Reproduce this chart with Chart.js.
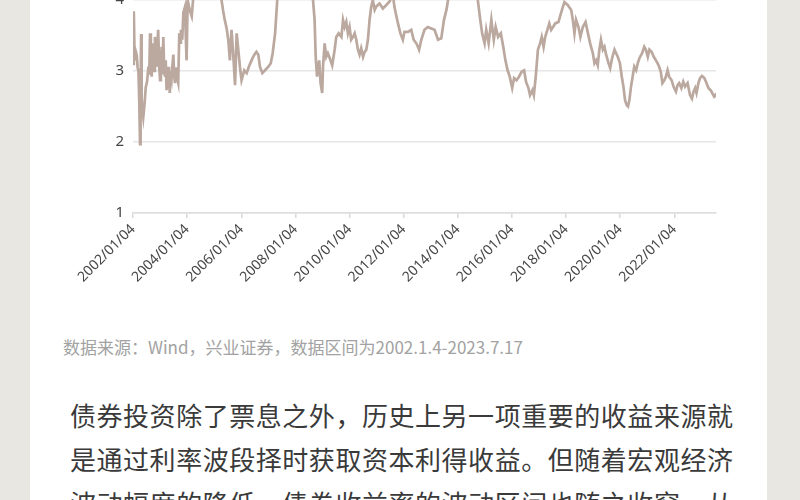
<!DOCTYPE html>
<html lang="zh-CN">
<head>
<meta charset="UTF-8">
<title>十年期国债收益率</title>
<script src="https://cdn.jsdelivr.net/npm/chart.js@4"></script>
<style>
  html, body { margin: 0; padding: 0; width: 800px; height: 500px; overflow: hidden; background: #e9e7e1; }
  .page { position: absolute; left: 30px; top: 0; width: 737px; height: 500px; background: #fff; }
  .chart-box { position: absolute; left: 0; top: -160px; width: 760px; height: 460px; }
  .source { position: absolute; left: 63px; top: 337px; font-family: "Noto Sans CJK SC", sans-serif; font-size: 17px; line-height: 20px; color: #a2a2a2; white-space: nowrap; }
  .text { position: absolute; left: 70px; top: 393px; width: 663px; font-family: "Noto Sans CJK SC", sans-serif; font-size: 26px; line-height: 44px; color: #3a3a3a; }
  .text div { text-align: justify; text-align-last: justify; white-space: nowrap; }
</style>
</head>
<body>
<div class="page"></div>
<div class="chart-box"><canvas id="yieldChart"></canvas></div>
<div class="source">数据来源：Wind，兴业证券，数据区间为2002.1.4-2023.7.17</div>
<div class="text">
  <div>债券投资除了票息之外，历史上另一项重要的收益来源就</div>
  <div>是通过利率波段择时获取资本利得收益。但随着宏观经济</div>
  <div>波动幅度的降低，债券收益率的波动区间也随之收窄，从</div>
</div>
<script>
// x tick labels
var tickYears = [2002, 2004, 2006, 2008, 2010, 2012, 2014, 2016, 2018, 2020, 2022];
var tickLabels = ['2002/01/04', '2004/01/04', '2006/01/04', '2008/01/04', '2010/01/04', '2012/01/04',
                  '2014/01/04', '2016/01/04', '2018/01/04', '2020/01/04', '2022/01/04'];

// time (decimal years) and yield (%)
var years = [
  2002.00, 2002.03, 2002.06, 2002.10, 2002.14, 2002.17, 2002.20, 2002.23, 2002.26, 2002.28, 2002.30, 2002.32,
  2002.35, 2002.38, 2002.43, 2002.47, 2002.52, 2002.57, 2002.60, 2002.63, 2002.66, 2002.69, 2002.72, 2002.75,
  2002.78, 2002.81, 2002.84, 2002.87, 2002.90, 2002.93, 2002.97, 2003.00, 2003.03, 2003.06, 2003.09, 2003.12,
  2003.15, 2003.18, 2003.21, 2003.24, 2003.27, 2003.30, 2003.33, 2003.36, 2003.40, 2003.43, 2003.46, 2003.49,
  2003.52, 2003.55, 2003.58, 2003.61, 2003.64, 2003.67, 2003.71, 2003.74, 2003.77, 2003.82, 2003.86, 2003.92,
  2003.95, 2003.98, 2004.02, 2004.10, 2004.17, 2004.23, 2004.29,
  2004.45, 2004.60, 2004.80, 2004.95, 2005.10, 2005.20,
  2005.27, 2005.33, 2005.39, 2005.46, 2005.52, 2005.58, 2005.64, 2005.70, 2005.77, 2005.83, 2005.89, 2005.95,
  2006.01, 2006.11, 2006.20, 2006.28, 2006.38, 2006.44, 2006.50, 2006.56, 2006.63, 2006.69, 2006.78, 2006.88,
  2007.00, 2007.09, 2007.16, 2007.25, 2007.33,
  2007.45, 2007.60, 2007.80, 2008.00, 2008.20, 2008.40, 2008.55,
  2008.65, 2008.71, 2008.75, 2008.80, 2008.88, 2008.93, 2008.99, 2009.02, 2009.08, 2009.14, 2009.20, 2009.27,
  2009.36, 2009.45, 2009.51, 2009.60, 2009.70, 2009.76, 2009.82, 2009.88, 2009.94, 2010.00, 2010.06, 2010.13,
  2010.19, 2010.25, 2010.31, 2010.37, 2010.43, 2010.50, 2010.56, 2010.62, 2010.68, 2010.74, 2010.80, 2010.86,
  2010.93, 2010.99, 2011.11, 2011.23, 2011.36, 2011.48, 2011.60, 2011.66, 2011.79, 2011.88, 2011.97, 2012.03,
  2012.16, 2012.28, 2012.37, 2012.47, 2012.57, 2012.65, 2012.77, 2012.89, 2013.02, 2013.14, 2013.27, 2013.39,
  2013.49, 2013.58, 2013.64,
  2013.80, 2013.95, 2014.10, 2014.30, 2014.50, 2014.65,
  2014.74, 2014.83, 2014.90, 2014.99, 2015.05, 2015.14, 2015.24, 2015.33, 2015.40, 2015.49, 2015.59, 2015.68,
  2015.76, 2015.84, 2015.92, 2016.01, 2016.08, 2016.17, 2016.26, 2016.36, 2016.45, 2016.52, 2016.61, 2016.67,
  2016.76, 2016.81, 2016.88, 2016.96, 2017.04, 2017.10, 2017.17, 2017.23, 2017.31, 2017.38, 2017.45, 2017.52,
  2017.60, 2017.72, 2017.81, 2017.88, 2017.94,
  2018.06, 2018.19, 2018.25, 2018.31, 2018.37, 2018.46, 2018.53, 2018.62, 2018.72, 2018.81, 2018.89, 2018.99,
  2019.05, 2019.11, 2019.17, 2019.23, 2019.29, 2019.36, 2019.42, 2019.48, 2019.57, 2019.63, 2019.70, 2019.79,
  2019.85, 2019.91, 2019.99, 2020.06, 2020.12, 2020.18, 2020.24, 2020.29, 2020.34, 2020.40, 2020.46, 2020.52,
  2020.59, 2020.65, 2020.71, 2020.81, 2020.89, 2020.95, 2021.02, 2021.08, 2021.16, 2021.24, 2021.32, 2021.38,
  2021.44, 2021.50, 2021.56, 2021.63, 2021.69, 2021.75, 2021.81, 2021.90, 2021.97, 2022.06, 2022.12, 2022.18,
  2022.26, 2022.33, 2022.40, 2022.49, 2022.58, 2022.65, 2022.71, 2022.77, 2022.82, 2022.89, 2022.95, 2023.02,
  2023.11, 2023.17, 2023.26, 2023.34, 2023.40, 2023.47, 2023.51, 2023.54
];
var yields = [
  3.10, 3.84, 3.15, 3.28, 3.22, 3.05, 3.00, 2.60, 1.97, 2.70, 3.52, 2.60,
  2.45, 2.35, 2.55, 2.77, 2.85, 3.06, 2.95, 3.53, 3.10, 2.92, 3.25, 3.39,
  3.00, 3.48, 3.20, 3.06, 3.35, 3.58, 3.05, 2.87, 3.10, 3.34, 2.95, 3.48,
  3.05, 2.92, 3.15, 2.73, 2.95, 3.06, 2.85, 2.69, 3.00, 2.92, 3.10, 3.23,
  2.95, 2.83, 3.05, 2.97, 2.88, 2.83, 3.53, 3.40, 3.58, 3.44, 3.82, 3.90,
  3.50, 3.15, 4.00, 3.85, 3.77, 4.05, 4.30,
  4.75, 5.05, 5.25, 5.00, 4.60, 4.25,
  4.00, 3.85, 3.72, 3.60, 3.44, 3.15, 3.58, 3.25, 2.80, 3.53, 3.30, 3.06,
  2.87, 3.01, 2.97, 3.06, 3.15, 3.20, 3.24, 3.27, 3.23, 3.06, 2.97, 3.01,
  3.06, 3.11, 3.25, 3.53, 4.00,
  4.35, 4.50, 4.60, 4.45, 4.35, 4.55, 4.30,
  4.00, 3.72, 3.20, 2.92, 3.15, 2.83, 2.69, 3.06, 3.39, 3.20, 3.25, 3.18,
  3.08, 3.30, 3.48, 3.53, 3.48, 3.72, 3.62, 3.69, 3.53, 3.62, 3.44, 3.48,
  3.53, 3.44, 3.30, 3.23, 3.32, 3.20, 3.27, 3.30, 3.44, 3.72, 3.90, 4.00,
  3.86, 3.91, 3.95, 3.88, 3.93, 3.98, 4.08, 3.90, 3.67, 3.53, 3.44, 3.55,
  3.55, 3.58, 3.44, 3.39, 3.30, 3.44, 3.58, 3.62, 3.60, 3.58, 3.44, 3.46,
  3.72, 3.86, 4.00,
  4.30, 4.60, 4.55, 4.40, 4.20, 4.05,
  4.00, 3.72, 3.53, 3.39, 3.58, 3.39, 3.72, 3.44, 3.62, 3.48, 3.53, 3.34,
  3.15, 3.01, 2.92, 2.76, 2.90, 2.87, 2.92, 2.99, 3.01, 2.85, 2.76, 2.66,
  2.73, 2.66, 2.92, 3.30, 3.39, 3.48, 3.34, 3.48, 3.58, 3.67, 3.58, 3.62,
  3.67, 3.69, 3.81, 3.90, 3.97,
  3.93, 3.86, 3.72, 3.53, 3.72, 3.62, 3.48, 3.62, 3.69, 3.53, 3.39, 3.25,
  3.11, 3.15, 3.08, 3.30, 3.44, 3.30, 3.34, 3.23, 3.11, 3.04, 3.18, 3.30,
  3.25, 3.20, 3.11, 2.92, 2.78, 2.59, 2.52, 2.50, 2.59, 2.78, 2.92, 3.06,
  3.01, 3.11, 3.18, 3.25, 3.34, 3.30, 3.20, 3.30, 3.27, 3.20, 3.15, 3.11,
  3.06, 2.99, 2.83, 2.87, 2.92, 3.01, 2.92, 2.87, 2.78, 2.71, 2.80, 2.83,
  2.76, 2.85, 2.78, 2.83, 2.66, 2.61, 2.71, 2.76, 2.69, 2.83, 2.90, 2.93,
  2.90, 2.85, 2.76, 2.73, 2.69, 2.64, 2.66, 2.63
];

var points = years.map(function (t, i) { return { x: t, y: yields[i] }; });

var ctx = document.getElementById('yieldChart').getContext('2d');
var yieldChart = new Chart(ctx, {
  type: 'line',
  data: {
    datasets: [{
      data: points,
      borderColor: '#bba89f',
      borderWidth: 2.7,
      pointRadius: 0,
      tension: 0,
      fill: false
    }]
  },
  options: {
    responsive: true,
    maintainAspectRatio: false,
    animation: false,
    layout: { padding: { top: 18, right: 44, left: 0, bottom: 0 } },
    plugins: { legend: { display: false }, tooltip: { enabled: false } },
    scales: {
      x: {
        type: 'linear',
        min: 2002,
        max: 2023.54,
        afterBuildTicks: function (scale) {
          scale.ticks = tickYears.map(function (v) { return { value: v }; });
        },
        afterFit: function (scale) { scale.height = 87; },
        grid: { drawOnChartArea: false, drawTicks: true, tickLength: 5, color: '#d9d9d9', lineWidth: 1.5 },
        border: { display: true, color: '#dedede', width: 1.5 },
        ticks: {
          autoSkip: false,
          minRotation: 45,
          maxRotation: 45,
          padding: 3,
          color: '#474747',
          font: { family: 'Noto Sans', size: 14 },
          callback: function (v, i) { return tickLabels[i]; }
        }
      },
      y: {
        min: 1,
        max: 6,
        afterFit: function (scale) { scale.width = 133; },
        grid: { color: '#e6e6e6', lineWidth: 1.5, drawTicks: false },
        border: { display: false },
        ticks: { stepSize: 1, padding: 9, color: '#474747', font: { family: 'Noto Sans', size: 15 } }
      }
    }
  }
});
</script>
</body>
</html>
